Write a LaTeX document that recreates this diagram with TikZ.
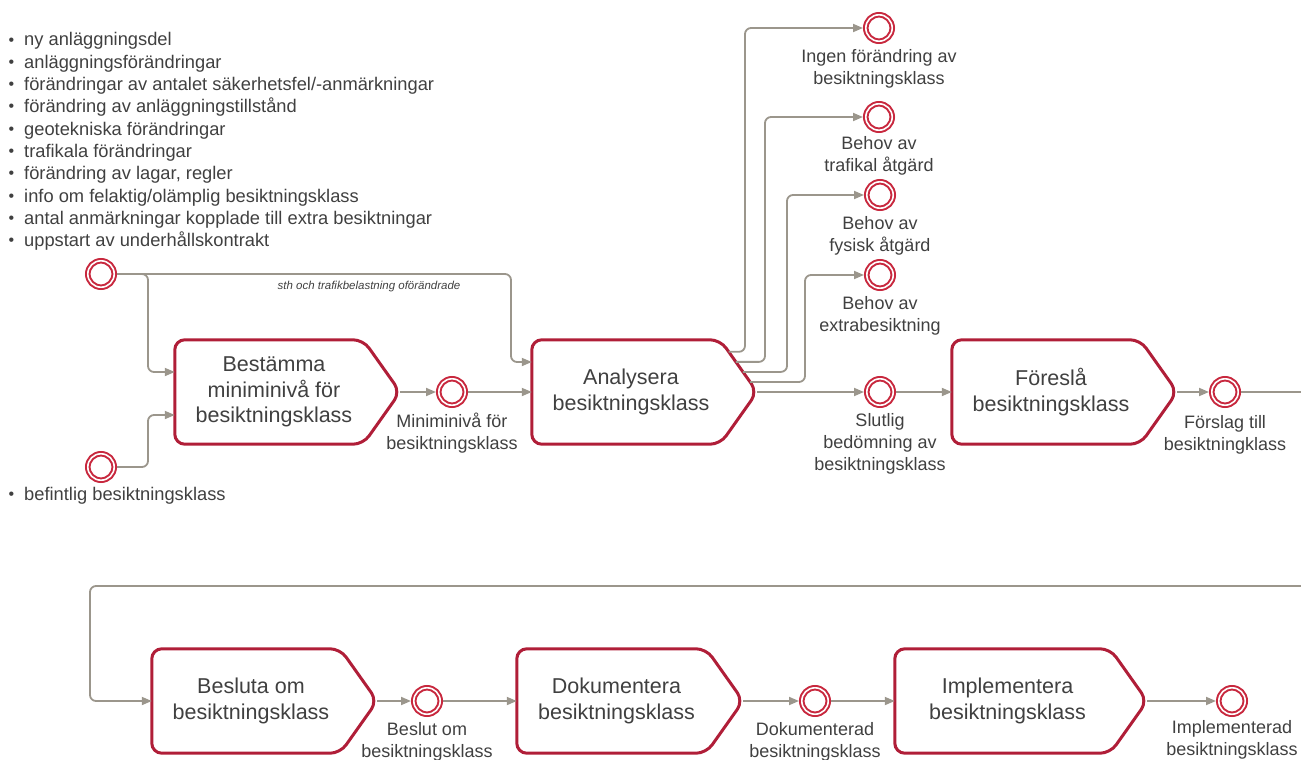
\documentclass[tikz,border=0pt]{standalone}
\usepackage{fontspec}
\setmainfont{Liberation Sans}
\usetikzlibrary{arrows.meta,calc}
\definecolor{procred}{RGB}{176,30,56}
\definecolor{evred}{RGB}{200,40,62}
\definecolor{flowgray}{RGB}{155,150,140}
\definecolor{txt}{RGB}{64,64,64}
\newcommand\boxfont{\fontsize{21.5}{25.5}\selectfont}
\newcommand\evfont{\fontsize{18}{22}\selectfont}
\newcommand\listfont{\fontsize{18.3}{22.3}\selectfont}
\newcommand\notefont{\fontsize{11.5}{13}\selectfont\itshape}
\newcommand\dotmark{\makebox[15.5pt][l]{\raisebox{1pt}{\fontsize{16}{16}\selectfont •}}}
\begin{document}
\begin{tikzpicture}[x=1pt,y=-1pt,
  proc/.style={rectangle, inner sep=0pt, minimum height=104pt, align=center, font=\boxfont, text=txt},
  procline/.style={draw=procred, line width=3pt, rounded corners=10pt},
  event/.style={circle, inner sep=0pt, minimum size=26.4pt, draw=evred, line width=2pt,
    double=white, double distance=1.6pt, fill=white, outer sep=2.8pt},
  evlabel/.style={anchor=north, inner sep=0pt, align=center, font=\evfont, text=txt},
  item/.style={anchor=base west, inner sep=0pt, font=\listfont, text=txt},
  note/.style={inner sep=0pt, font=\notefont, text=txt},
  flow/.style={draw=flowgray, line width=1.8pt, rounded corners=6pt,
    -{Triangle[length=10pt,width=8pt]}},
]
\useasboundingbox (0,0) rectangle (1301,760);

% triggers
\foreach \t [count=\i] in {ny anläggningsdel, anläggningsförändringar,
    förändringar av antalet säkerhetsfel/-anmärkningar, förändring av anläggningstillstånd,
    geotekniska förändringar, trafikala förändringar, {förändring av lagar, regler},
    info om felaktig/olämplig besiktningsklass, antal anmärkningar kopplade till extra besiktningar,
    uppstart av underhållskontrakt}
  \node[item] (item\i) at (8.5,{46+22.3*(\i-1)}) {\dotmark\t};
\node[item] (item0) at (8.5,500) {\dotmark befintlig besiktningsklass};

% start events
\node[event] (ev0) at (101,274) {};
\node[event] (ev1) at (101,467) {};

% processes
\node[proc, minimum width=198pt] (bB) at (274,392) {Bestämma\\miniminivå för\\besiktningsklass};
\node[proc, minimum width=198pt] (bA) at (631,392) {Analysera\\besiktningsklass};
\node[proc, minimum width=198pt] (bF) at (1051,392) {Föreslå\\besiktningsklass};
\node[proc, minimum width=198pt] (bL) at (251,701) {Besluta om\\besiktningsklass};
\node[proc, minimum width=199pt] (bD) at (616.5,701) {Dokumentera\\besiktningsklass};
\node[proc, minimum width=225pt] (bI) at (1007.5,701) {Implementera\\besiktningsklass};

\foreach \n in {bB,bA,bF,bL,bD,bI} {
  \coordinate (\n-tip) at ($(\n.east)+(27,0)$);
  \draw[procline] (\n.north west) -- ([xshift=-10pt]\n.north east) -- (\n-tip)
    -- ([xshift=-10pt]\n.south east) -- (\n.south west) -- cycle;
}

% intermediate and end events
\node[event] (evM) at (452,392) {};
\node[evlabel] (lM) at (452,411.5) {\strut Miniminivå för\\besiktningsklass};
\node[event] (evI) at (879,28) {};
\node[evlabel] (lI) at (879,46.5) {\strut Ingen förändring av\\besiktningsklass};
\node[event] (evT) at (879,117) {};
\node[evlabel] (lT) at (879,133.5) {\strut Behov av\\trafikal åtgärd};
\node[event] (evFy) at (880,195) {};
\node[evlabel] (lFy) at (880,213.5) {\strut Behov av\\fysisk åtgärd};
\node[event] (evE) at (880,275) {};
\node[evlabel] (lE) at (880,293.5) {\strut Behov av\\extrabesiktning};
\node[event] (evS) at (880,392) {};
\node[evlabel] (lS) at (880,410.5) {\strut Slutlig\\bedömning av\\besiktningsklass};
\node[event] (evP) at (1225,392) {};
\node[evlabel] (lP) at (1225,413) {\strut Förslag till\\besiktningklass};
\node[event] (evB) at (427,701) {};
\node[evlabel] (lB) at (427,720) {\strut Beslut om\\besiktningsklass};
\node[event] (evDk) at (815,701) {};
\node[evlabel] (lDk) at (815,719.5) {\strut Dokumenterad\\besiktningsklass};
\node[event] (evIm) at (1232,701) {};
\node[evlabel] (lIm) at (1232,718) {\strut Implementerad\\besiktningsklass};

% flows into the first two processes
\draw[flow] (ev0) -| (148,372) -- (bB.west |- 0,372);
\draw[flow] (ev0) -| (511,362) -- (bA.west |- 0,362);
\node[note] (nt) at (369,287) {sth och trafikbelastning oförändrade};
\draw[flow] (ev1) -| (148,415) -- (bB.west |- 0,415);
\draw[flow] (bB-tip) -- (evM);
\draw[flow] (evM) -- (bA.west);

% outcomes of the analysis
\coordinate (sA1) at ($([xshift=-10pt]bA.north east)!0.23!(bA-tip)$);
\coordinate (sA2) at ($([xshift=-10pt]bA.north east)!0.423!(bA-tip)$);
\coordinate (sA3) at ($([xshift=-10pt]bA.north east)!0.615!(bA-tip)$);
\coordinate (sA4) at ($([xshift=-10pt]bA.north east)!0.808!(bA-tip)$);
\draw[flow] (sA1) -| (745,28) -- (evI);
\draw[flow] (sA2) -| (765,117) -- (evT);
\draw[flow] (sA3) -| (787,195) -- (evFy);
\draw[flow] (sA4) -| (805,275) -- (evE);
\draw[flow] (bA-tip) -- (evS);
\draw[flow] (evS) -- (bF.west);
\draw[flow] (bF-tip) -- (evP);

% wrap to the second row
\draw[flow] (evP) -- (1325,392) |- (90,586) |- (bL.west);
\draw[flow] (bL-tip) -- (evB);
\draw[flow] (evB) -- (bD.west);
\draw[flow] (bD-tip) -- (evDk);
\draw[flow] (evDk) -- (bI.west);
\draw[flow] (bI-tip) -- (evIm);
\end{tikzpicture}
\end{document}
